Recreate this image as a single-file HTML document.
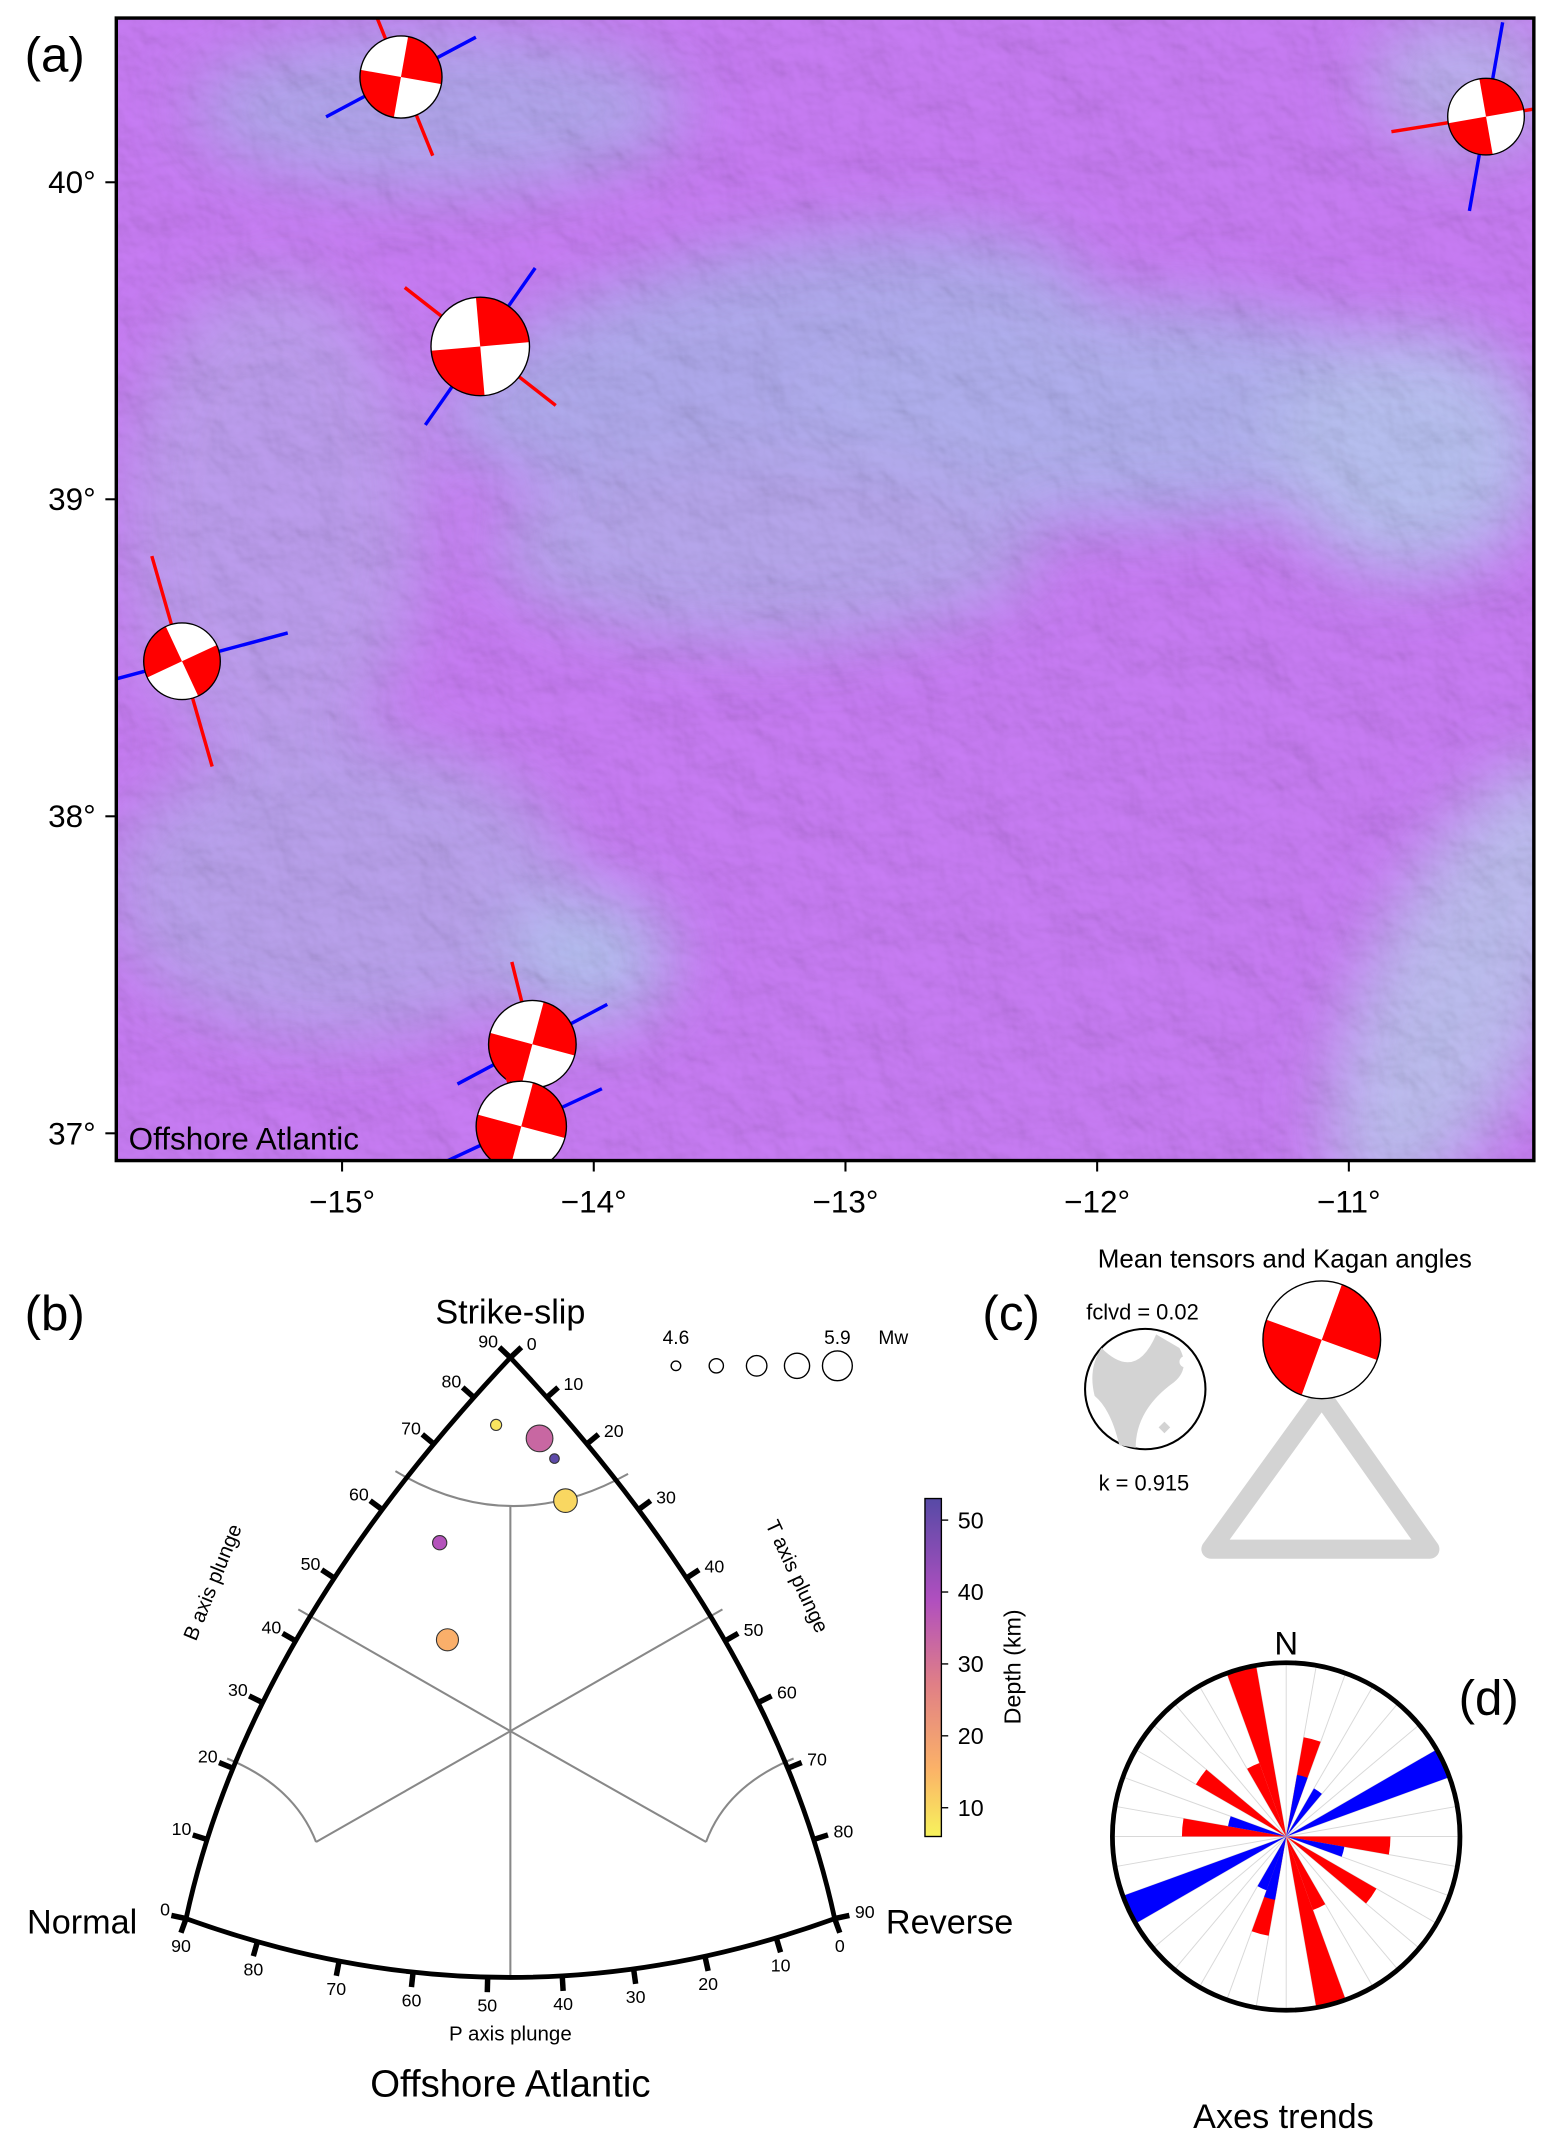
<!DOCTYPE html>
<html><head><meta charset="utf-8"><style>
html,body{margin:0;padding:0;background:#fff}
svg{display:block;font-family:"Liberation Sans","DejaVu Sans",sans-serif}
</style></head><body>
<svg id="fig" width="1553" height="2146" viewBox="0 0 1135 1568" xmlns="http://www.w3.org/2000/svg">
<defs>
<clipPath id="mapclip"><rect x="85" y="13" width="1036" height="835"/></clipPath>
<filter id="blur12" x="-50%" y="-50%" width="200%" height="200%"><feGaussianBlur stdDeviation="24"/></filter>
<filter id="hill" x="0" y="0" width="100%" height="100%">
<feTurbulence type="fractalNoise" baseFrequency="0.025" numOctaves="4" seed="7" result="n"/>
<feDiffuseLighting in="n" surfaceScale="6" lighting-color="#fff" result="l"><feDistantLight azimuth="300" elevation="45"/></feDiffuseLighting>
</filter>
<linearGradient id="cbar" x1="0" y1="1" x2="0" y2="0">
<stop offset="0" stop-color="#f7f35c"/><stop offset="0.2" stop-color="#fbb268"/><stop offset="0.45" stop-color="#e07f86"/><stop offset="0.7" stop-color="#b04fbf"/><stop offset="1" stop-color="#574aa6"/>
</linearGradient>
</defs>

<g>
<text x="18" y="52" font-size="36">(a)</text>
<g clip-path="url(#mapclip)">
<rect x="85" y="13" width="1036" height="835" fill="#c87cf4"/>
<g filter="url(#blur12)" opacity="0.75">
<ellipse cx="320" cy="80" rx="180" ry="60" fill="#aab4ea"/>
<ellipse cx="560" cy="260" rx="240" ry="80" fill="#a7b9ea" transform="rotate(-12 560 260)"/>
<ellipse cx="820" cy="300" rx="240" ry="80" fill="#a9c1ec"/>
<ellipse cx="1030" cy="330" rx="100" ry="90" fill="#b2d6ef"/>
<ellipse cx="560" cy="400" rx="200" ry="70" fill="#b0b4ea"/>
<ellipse cx="200" cy="380" rx="110" ry="180" fill="#b9a8ec"/>
<ellipse cx="250" cy="650" rx="170" ry="110" fill="#b4aeea"/>
<ellipse cx="430" cy="700" rx="60" ry="50" fill="#aed3ee"/>
<ellipse cx="1070" cy="720" rx="70" ry="180" fill="#b9d3ee" transform="rotate(25 1070 720)"/>
<ellipse cx="1070" cy="60" rx="70" ry="50" fill="#b6c0ec"/>
</g>
<rect x="85" y="13" width="1036" height="835" filter="url(#hill)" opacity="0.22" style="mix-blend-mode:multiply"/>
<text x="94" y="840" font-size="23">Offshore Atlantic</text>
<g id="balls"></g>
</g>
<rect x="85" y="13" width="1036" height="835" fill="none" stroke="#000" stroke-width="2.5"/>
<g id="mapaxes" font-size="23"></g>
</g>

<g>
<text x="18" y="972" font-size="36">(b)</text>
<text x="373" y="967" font-size="25" text-anchor="middle">Strike-slip</text>
<text x="60" y="1413" font-size="25" text-anchor="middle">Normal</text>
<text x="694" y="1413" font-size="25" text-anchor="middle">Reverse</text>
<text x="373" y="1532" font-size="28" text-anchor="middle">Offshore Atlantic</text>
<text x="373" y="1491" font-size="15" text-anchor="middle">P axis plunge</text>
<text font-size="15" text-anchor="middle" transform="translate(160 1158) rotate(-68)">B axis plunge</text>
<text font-size="15" text-anchor="middle" transform="translate(578 1154) rotate(65)">T axis plunge</text>
<g fill="none" stroke="#888" stroke-width="1.5">
<path d="M289 1075 Q373 1125 459 1077"/>
<line x1="373" y1="1100" x2="373" y2="1445"/>
<line x1="218" y1="1176" x2="373" y2="1265"/><line x1="528" y1="1176" x2="373" y2="1265"/>
<line x1="231" y1="1346" x2="373" y2="1265"/><line x1="516" y1="1346" x2="373" y2="1265"/>
<path d="M166 1285 Q215 1305 231 1346"/><path d="M580 1285 Q531 1305 516 1346"/>
</g>
<g fill="none" stroke="#000" stroke-width="3.5">
<path d="M136 1402 Q180 1197 373 992 Q566 1197 610 1402 Q373 1488 136 1402 Z"/>
</g>
<g id="tticks" font-size="13"></g>
<g id="tpoints"></g>
<g id="sizelegend" font-size="14"></g>
<g id="colorbar" font-size="17"></g>
</g>

<g>
<text x="718" y="972" font-size="36">(c)</text>
<text x="939" y="926" font-size="19" text-anchor="middle">Mean tensors and Kagan angles</text>
<text x="835" y="964" font-size="16" text-anchor="middle">fclvd = 0.02</text>
<text x="836" y="1089" font-size="16" text-anchor="middle">k = 0.915</text>
<path d="M966 1020 L885 1132 L1045 1132 Z" fill="none" stroke="#d3d3d3" stroke-width="14" stroke-linejoin="round"/>
<g>
<circle cx="837" cy="1015" r="44" fill="#fff" stroke="#000" stroke-width="1.5"/>
<path d="M805 985 Q830 1010 845 975 L862 985 Q870 1000 858 1010 Q830 1030 830 1058 L818 1056 Q812 1030 800 1020 Q795 1000 805 985 Z" fill="#d3d3d3"/>
<circle cx="866" cy="995" r="4" fill="#fff"/>
<rect x="848" y="1040" width="6" height="6" fill="#d3d3d3" transform="rotate(45 851 1043)"/>
</g>
<g id="meanball"></g>
</g>

<g>
<text x="1066" y="1253" font-size="36">(d)</text>
<text x="940" y="1209" font-size="24" text-anchor="middle">N</text>
<text x="938" y="1555" font-size="25" text-anchor="middle">Axes trends</text>
<g id="rose"></g>
</g>
</svg>

<script>
var NS="http://www.w3.org/2000/svg";
function mk(tag,attrs,parent){var e=document.createElementNS(NS,tag);for(var k in attrs)e.setAttribute(k,attrs[k]);parent.appendChild(e);return e;}

// ---------- Map data ----------
var lonTicks=[-15,-14,-13,-12,-11];
var latTicks=[40,39,38,37];
var lonRange=[-15.897,-10.265];
var latRange=[36.914,40.518];
var ballLon=[-14.766,-10.455,-14.451,-15.636,-14.244,-14.288];
var ballLat=[40.332,40.207,39.482,38.489,37.281,37.022];
var ballR=[30,28,36,28,32,33];
var ballRot=[-80,-100,-95,155,-75,-75];
var pAz=[-22,-99,-52,-16,-14,-16];
var tAz=[62,10,35,75,62,65];
var lineLen=[62,70,70,80,62,65];
function mx(lon){return 85+(lon-lonRange[0])/(lonRange[1]-lonRange[0])*1036;}
function my(lat){return 848-(lat-latRange[0])/(latRange[1]-latRange[0])*835;}

function beachball(g,cx,cy,r,rot){
  mk('circle',{cx:cx,cy:cy,r:r,fill:'#fff'},g);
  for(var q=0;q<2;q++){
    var a0=(rot+q*180)*Math.PI/180,a1=(rot+q*180+90)*Math.PI/180;
    mk('path',{d:'M'+cx+' '+cy+' L'+(cx+r*Math.cos(a0))+' '+(cy+r*Math.sin(a0))+' A'+r+' '+r+' 0 0 1 '+(cx+r*Math.cos(a1))+' '+(cy+r*Math.sin(a1))+' Z',fill:'#f00'},g);
  }
  mk('circle',{cx:cx,cy:cy,r:r,fill:'none',stroke:'#000','stroke-width':1},g);
}
var balls=document.getElementById('balls');
for(var i=0;i<ballLon.length;i++){
  var g=mk('g',{},balls);
  
  
  var cx=mx(ballLon[i]),cy=my(ballLat[i]),L=lineLen[i];
  var cols=['#f00','#00f'],az=[pAz[i],tAz[i]];
  for(var k=0;k<2;k++){var a=az[k]*Math.PI/180;
    mk('line',{x1:cx-L*Math.sin(a),y1:cy+L*Math.cos(a),x2:cx+L*Math.sin(a),y2:cy-L*Math.cos(a),stroke:cols[k],'stroke-width':2.5},g);}
  beachball(g,cx,cy,ballR[i],ballRot[i]);
}
var ma=document.getElementById('mapaxes');
lonTicks.forEach(function(v){var x=mx(v);
  var t=mk('line',{x1:x,y1:848,x2:x,y2:856,stroke:'#000','stroke-width':1.5},ma);
  
  var tx=mk('text',{x:x,y:886,'text-anchor':'middle'},ma);tx.textContent='\u2212'+Math.abs(v)+'\u00b0';
  });
latTicks.forEach(function(v){var y=my(v);
  var t=mk('line',{x1:77,y1:y,x2:85,y2:y,stroke:'#000','stroke-width':1.5},ma);
  
  var tx=mk('text',{x:70,y:y+8,'text-anchor':'end'},ma);tx.textContent=v+'\u00b0';
  });

// ---------- Ternary data ----------
var leftLabels=[0,10,20,30,40,50,60,70,80,90];
var leftFrac=[0,0.141,0.268,0.385,0.495,0.607,0.729,0.846,0.929,1];
var bottomLabels=[90,80,70,60,50,40,30,20,10,0];
var bottomFrac=[0,0.11,0.236,0.35,0.465,0.58,0.69,0.8,0.91,1];
var evU=[0.478,0.545,0.568,0.585,0.391,0.403];
var evV=[0.88,0.856,0.82,0.745,0.67,0.497];
var evDepth=[8,33,52,10,38,16];
var evMw=[4.7,5.7,4.6,5.5,4.9,5.4];
var legendMw=[4.6,4.9,5.3,5.6,5.9];
var cbTicks=[10,20,30,40,50];
var cbRange=[6,53];

var A=[373,992],BL=[136,1402],BR=[610,1402],CL=[180,1197],CR=[566,1197],CB=[373,1488];
function qb(p0,c,p1,t){return [(1-t)*(1-t)*p0[0]+2*(1-t)*t*c[0]+t*t*p1[0],(1-t)*(1-t)*p0[1]+2*(1-t)*t*c[1]+t*t*p1[1]];}
function qn(p0,c,p1,t){var dx=2*(1-t)*(c[0]-p0[0])+2*t*(p1[0]-c[0]),dy=2*(1-t)*(c[1]-p0[1])+2*t*(p1[1]-c[1]);var l=Math.hypot(dx,dy);return [dx/l,dy/l];}
var tt=document.getElementById('tticks');
function tick(p0,c,p1,t,side,label,dx,dy,anchor){
  var p=qb(p0,c,p1,t),d=qn(p0,c,p1,t),n=[d[1]*side,-d[0]*side];
  var ln=mk('line',{x1:p[0],y1:p[1],x2:p[0]+n[0]*11,y2:p[1]+n[1]*11,stroke:'#000','stroke-width':4},tt);
  
  var tx=mk('text',{x:p[0]+n[0]*11+dx,y:p[1]+n[1]*11+dy,'text-anchor':anchor},tt);tx.textContent=label;
  
}
for(var i=0;i<leftLabels.length;i++){
  tick(BL,CL,A,leftFrac[i],1,leftLabels[i],-1,0,'end');
  tick(A,CR,BR,1-leftFrac[leftLabels.length-1-i],1,leftLabels[i],4,2,'start');
}
for(var i=0;i<bottomLabels.length;i++){ tick(BR,CB,BL,1-bottomFrac[i],1,bottomLabels[i],0,14,'middle'); }

function depthColor(d){
  var f=(d-cbRange[0])/(cbRange[1]-cbRange[0]);
  var stops=[[0,[247,243,92]],[0.2,[251,178,104]],[0.45,[224,127,134]],[0.7,[176,79,191]],[1,[87,74,166]]];
  for(var i=1;i<stops.length;i++){if(f<=stops[i][0]){var a=stops[i-1],b=stops[i],t=(f-a[0])/(b[0]-a[0]);
    return 'rgb('+[0,1,2].map(function(k){return Math.round(a[1][k]+(b[1][k]-a[1][k])*t);}).join(',')+')';}}
  return 'rgb(87,74,166)';
}
function mwR(m){return 3.5+(m-4.6)*5.7;}
function tx_(u,v){return [136+u*474, 1402-v*410];}
var tp=document.getElementById('tpoints');
for(var i=0;i<evU.length;i++){var p=tx_(evU[i],evV[i]);
  var c=mk('circle',{cx:p[0],cy:p[1],r:mwR(evMw[i]),fill:depthColor(evDepth[i]),stroke:'#333','stroke-width':0.8},tp);
  }
var sl=document.getElementById('sizelegend');
for(var i=0;i<legendMw.length;i++){var x=494+i*29.5;
  var c=mk('circle',{cx:x,cy:998,r:mwR(legendMw[i]),fill:'none',stroke:'#000','stroke-width':1},sl);
  }
var t1=mk('text',{x:494,y:982,'text-anchor':'middle'},sl);t1.textContent='4.6';

var t2=mk('text',{x:612,y:982,'text-anchor':'middle'},sl);t2.textContent='5.9';

var t3=mk('text',{x:642,y:982},sl);t3.textContent='Mw';


var cb=document.getElementById('colorbar');
var cbTop=1095,cbBot=1342;
function cy_(d){return cbBot-(d-cbRange[0])/(cbRange[1]-cbRange[0])*(cbBot-cbTop);}
var r=mk('rect',{x:676,y:cbTop,width:12,height:cbBot-cbTop,fill:'url(#cbar)',stroke:'#000','stroke-width':1},cb);

cbTicks.forEach(function(v){var y=cy_(v);
  mk('line',{x1:688,y1:y,x2:693,y2:y,stroke:'#000'},cb);
  var t=mk('text',{x:700,y:y+6},cb);t.textContent=v;
  });
var cl=mk('text',{'text-anchor':'middle',transform:'translate(746 1218) rotate(-90)'},cb);cl.textContent='Depth (km)';


var mb=mk('g',{},document.getElementById('meanball'));

beachball(mb,966,979,43,-70);

// ---------- Rose diagram ----------
var roseR=127, rc=[940,1342];
var pBins=[340,330,10,90,120,150,160,190,270,300];
var pLen=[1.0,0.45,0.58,0.6,0.6,0.45,1.0,0.58,0.6,0.6];
var tBins=[10,30,60,100,190,200,240,280];
var tLen=[0.36,0.32,1.0,0.34,0.37,0.33,1.0,0.34];
var rose=document.getElementById('rose');
mk('circle',{cx:rc[0],cy:rc[1],r:roseR,fill:'#fff'},rose);
for(var a=0;a<360;a+=10){var ar=a*Math.PI/180;
  mk('line',{x1:rc[0],y1:rc[1],x2:rc[0]+roseR*Math.sin(ar),y2:rc[1]-roseR*Math.cos(ar),stroke:'#d8d8d8','stroke-width':0.7},rose);}
function wedge(b,len,col,name){
  var R=len*roseR,a0=b*Math.PI/180,a1=(b+10)*Math.PI/180;
  var p=mk('path',{d:'M'+rc[0]+' '+rc[1]+' L'+(rc[0]+R*Math.sin(a0))+' '+(rc[1]-R*Math.cos(a0))+' A'+R+' '+R+' 0 0 1 '+(rc[0]+R*Math.sin(a1))+' '+(rc[1]-R*Math.cos(a1))+' Z',fill:col},rose);
  
}
for(var i=0;i<pBins.length;i++) wedge(pBins[i],pLen[i],'#f00','p-axis-bar');
for(var i=0;i<tBins.length;i++) wedge(tBins[i],tLen[i],'#00f','t-axis-bar');
var ring=mk('circle',{cx:rc[0],cy:rc[1],r:roseR,fill:'none',stroke:'#000','stroke-width':3.5},rose);

</script>
</body></html>
